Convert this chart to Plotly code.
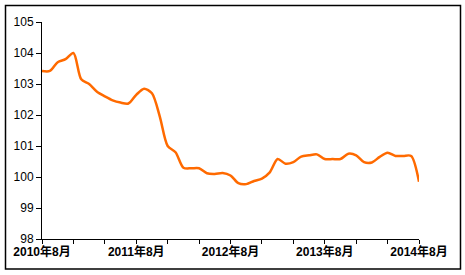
import plotly.graph_objects as go

# Monthly index, Aug 2010 .. Aug 2014 (49 months)
month_index = list(range(49))
values = [
    103.42, 103.42, 103.70, 103.80, 104.00, 103.15, 103.00, 102.75, 102.60, 102.47,
    102.40, 102.37, 102.65, 102.85, 102.70, 101.95, 101.00, 100.80, 100.30, 100.28,
    100.28, 100.12, 100.10, 100.13, 100.05, 99.80, 99.77, 99.87, 99.95, 100.15,
    100.58, 100.43, 100.48, 100.66, 100.70, 100.73, 100.58, 100.58, 100.58, 100.75,
    100.70, 100.48, 100.47, 100.65, 100.78, 100.68, 100.68, 100.68, 99.85,
]
tick_positions = list(range(0, 49, 4))
label_positions = [0, 12, 24, 36, 48]
label_texts = ["2010年8月", "2011年8月", "2012年8月", "2013年8月", "2014年8月"]

tick_text = [label_texts[label_positions.index(p)] if p in label_positions else "" for p in tick_positions]

fig = go.Figure()
fig.add_trace(go.Scatter(
    x=month_index, y=values, mode="lines",
    line=dict(color="#FF6A00", width=2.5, shape="spline", smoothing=0.8),
    hoverinfo="skip", showlegend=False,
))

font_family = "Liberation Sans, Arial, Noto Sans CJK SC, sans-serif"

fig.update_layout(
    width=465, height=275,
    margin=dict(l=42, r=46, t=22, b=36),
    paper_bgcolor="white", plot_bgcolor="white",
    font=dict(family=font_family, size=12, color="black"),
    xaxis=dict(
        range=[0, 48], tickmode="array", tickvals=tick_positions, ticktext=tick_text,
        showgrid=False, zeroline=False, showline=True, linecolor="black", linewidth=1,
        ticks="outside", ticklen=4, tickcolor="black", ticklabelstandoff=-2,
        tickfont=dict(family=font_family, size=12, color="black", weight="bold"),
    ),
    yaxis=dict(
        range=[98, 105], dtick=1, showgrid=False, zeroline=False,
        showline=True, linecolor="black", linewidth=1,
        ticks="outside", ticklen=5, tickcolor="black",
        tickfont=dict(family=font_family, size=12, color="black"),
    ),
    shapes=[dict(
        type="rect", xref="paper", yref="paper",
        x0=(5.5 - 42) / 377, x1=(460.5 - 42) / 377,
        y0=(239 - 269) / 217, y1=(239 - 5.5) / 217,
        line=dict(color="black", width=1.5), fillcolor="rgba(0,0,0,0)", layer="below",
    )],
)

fig.write_html("out.html")
